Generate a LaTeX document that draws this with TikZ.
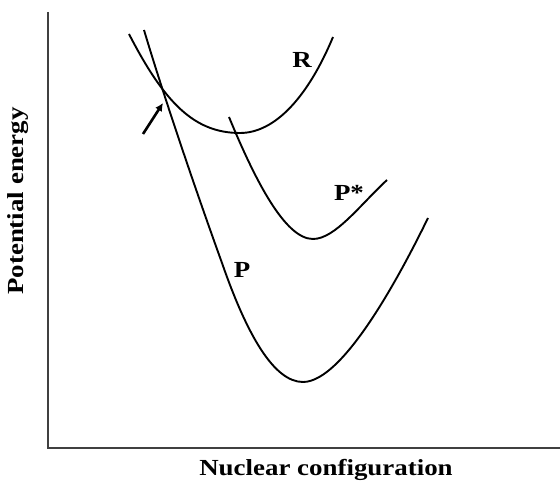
\documentclass[tikz,border=0pt]{standalone}
\usepackage{fontspec}
\setmainfont{Liberation Serif}
\usetikzlibrary{arrows.meta}

\begin{document}
\begin{tikzpicture}[x=1pt,y=-1pt,
        curve/.style={line width=1.9pt, black},
        axis/.style={line width=1.6pt, black!75},
        lbl/.style={font=\fontsize{23}{27}\selectfont\bfseries, inner sep=0pt}]
        \useasboundingbox (0,0) rectangle (560,481);
        % axes
        \draw[axis] (48,12) -- (48,448) -- (560,448);
        \node[lbl, xscale=1.17] (xlab) at (326,470) {Nuclear configuration};
        \node[lbl, rotate=90, xscale=1.17] (ylab) at (18,201) {Potential energy};
        % reactant curve
        \draw[curve] (129,34) .. controls (165,104) and (195,133) .. (240,133)
            .. controls (275,133) and (308,97) .. (333,37);
        % excited product curve
        \draw[curve] (229,117) .. controls (255,180) and (285,239) .. (313,239)
            .. controls (335,239) and (360,205) .. (387,180);
        % product curve
        \draw[curve] (144,30) .. controls (164,97) and (196,191) .. (222,263)
            .. controls (247,335) and (274,382) .. (303,382)
            .. controls (345,382) and (405,265) .. (428,218);
        \node[lbl, xscale=1.17] (R) at (302,60) {R};
        \node[lbl, xscale=1.17] (Pstar) at (349,193) {P*};
        \node[lbl, xscale=1.17] (P) at (242,270) {P};
        % crossing point
        \coordinate (tail) at (143,134);
        \coordinate (cross) at (163,103);
        \draw[line width=2.6pt, -{Latex[length=8pt,width=8pt]}] (tail) -- (cross);
\end{tikzpicture}
\end{document}
